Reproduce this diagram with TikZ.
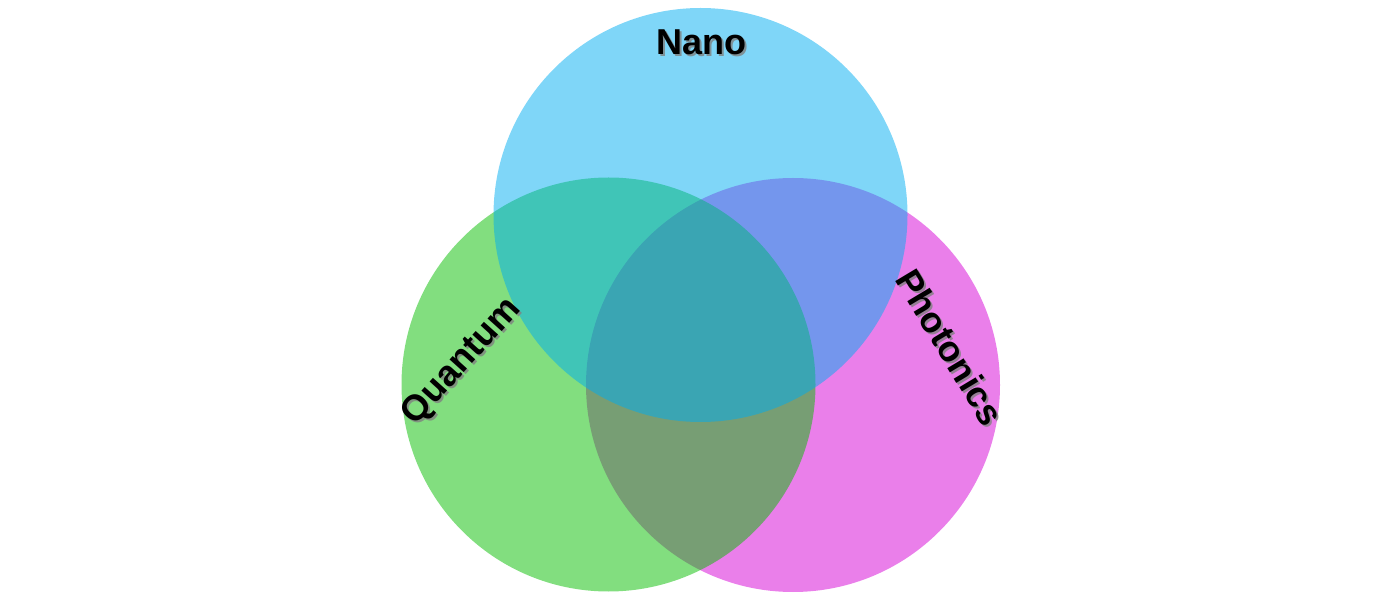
\documentclass[tikz,border=0pt]{standalone}
\usepackage{fontspec}
\setmainfont{Liberation Sans}
\definecolor{nanoblue}{RGB}{0,173,241}
\definecolor{quantgreen}{RGB}{5,189,0}
\definecolor{photmag}{RGB}{213,0,213}
\begin{document}
\begin{tikzpicture}[x=1pt, y=1pt,
  set/.style={fill opacity=0.5},
  lbl/.style={font=\fontsize{36}{42}\selectfont\bfseries, text=black, inner sep=0pt},
  shd/.style={lbl, text=black!50, opacity=0.8}]

  \useasboundingbox (0,0) rectangle (1400,600);

  % the three sets, magenta first, blue on top
  \fill[set, photmag] (793,215) circle (207);
  \fill[set, quantgreen] (608.5,215.5) circle (207);
  \fill[set, nanoblue] (700.5,385) circle (207);

  % labels with a soft drop shadow
  \node[shd] (nanoS) at (703,556) {Nano};
  \node[lbl] (nano) at (701,558) {Nano};
  \node[shd, rotate=48] (quantS) at (464,236) {Quantum};
  \node[lbl, rotate=48] (quant) at (462,238) {Quantum};
  \node[shd, rotate=-59] (photS) at (952,251) {Photonics};
  \node[lbl, rotate=-59] (phot) at (950,253) {Photonics};

\end{tikzpicture}
\end{document}
